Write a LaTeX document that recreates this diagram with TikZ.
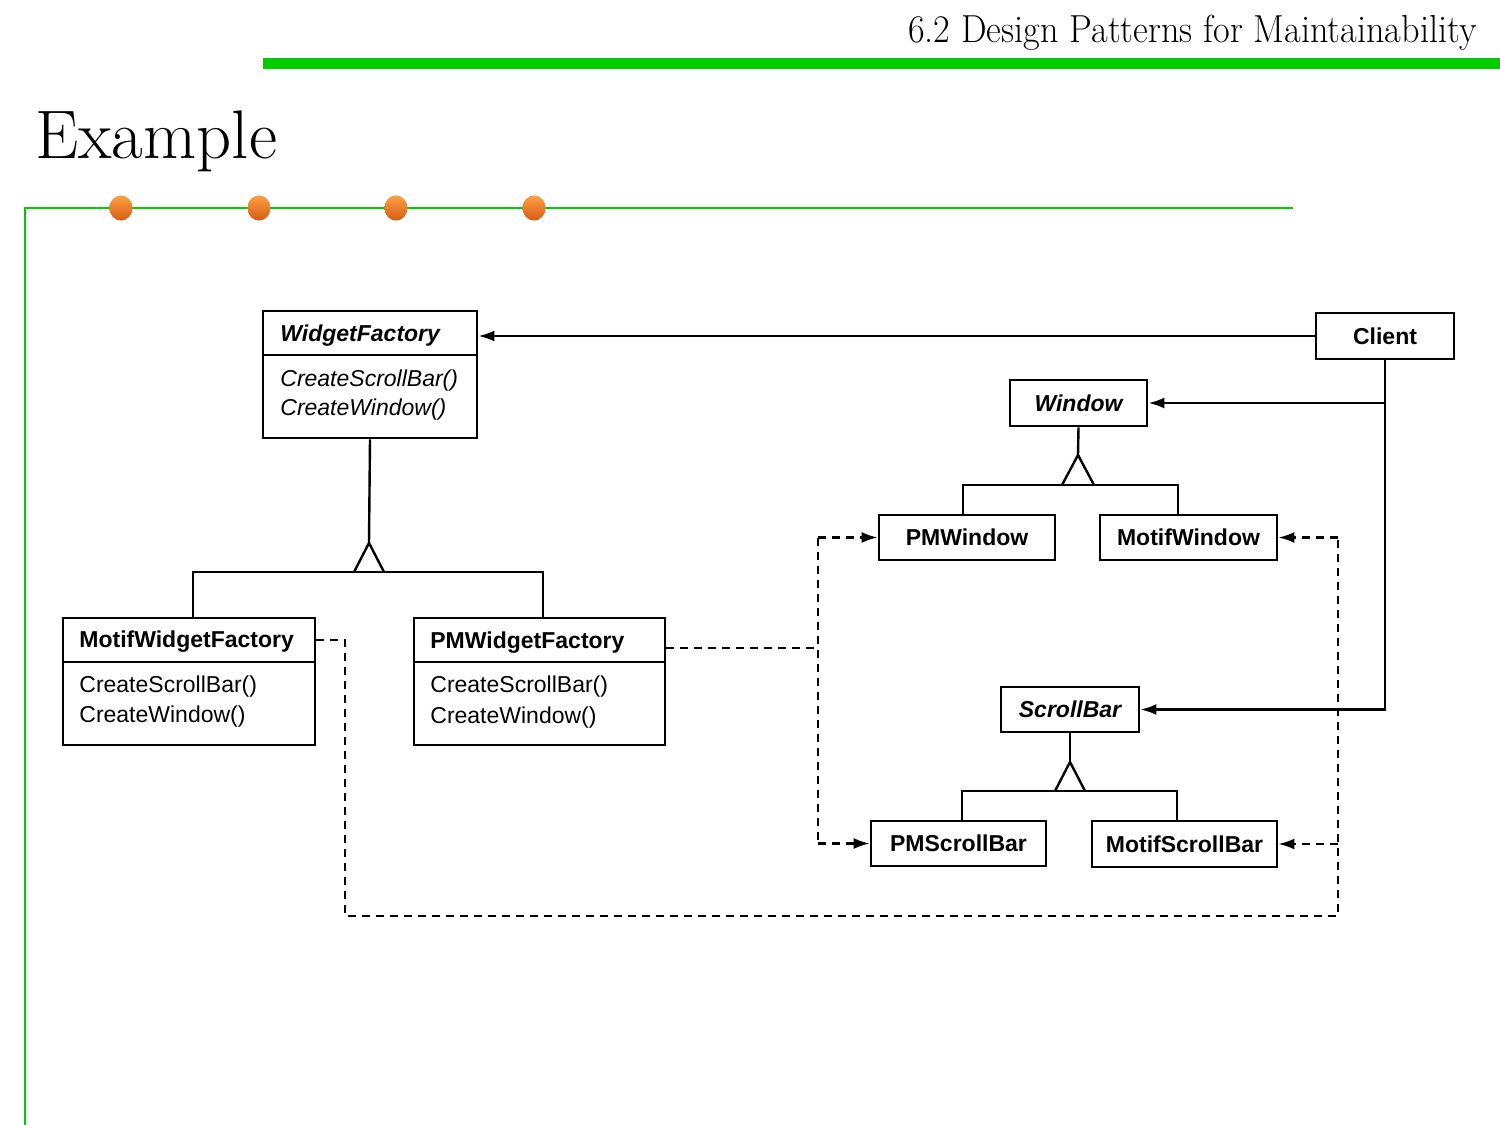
\documentclass[tikz,border=0pt]{standalone}
\usepackage{fontspec}
\setsansfont{Liberation Sans}
\usetikzlibrary{arrows.meta,calc}
\definecolor{hgreen}{RGB}{0,204,0}
\definecolor{dotlight}{RGB}{252,160,70}
\definecolor{dotdark}{RGB}{214,92,18}
\begin{document}
\begin{tikzpicture}[x=0.5pt,y=-0.5pt,
  box/.style={draw,line width=1.4pt,rectangle,inner sep=0pt,font=\sffamily\bfseries\fontsize{11.5}{13}\selectfont},
  abox/.style={box,font=\sffamily\bfseries\itshape\fontsize{11.5}{13}\selectfont},
  txt/.style={anchor=west,inner sep=0pt,font=\sffamily\fontsize{11.5}{13}\selectfont},
  conn/.style={line width=1.2pt},
  tipa/.style={-{Latex[length=8pt,width=5.5pt]}},
  dsh/.style={line width=1.1pt,dash pattern=on 4pt off 3pt},
  gline/.style={draw=hgreen,line width=1pt}]
\useasboundingbox (0,0) rectangle (1500,1125);
% header
\node[anchor=base east,inner sep=0pt] (hdr) at (1477,42) {\scalebox{1}[1.08]{\fontsize{18.1}{21}\selectfont 6.2 Design Patterns for Maintainability}};
\fill[hgreen] (263,58) rectangle (1500,69);
\node[anchor=base west,inner sep=0pt] (ttl) at (35,158) {\fontsize{34.4}{38}\selectfont Example};
\draw[gline] (1293,208) -- (25,208) -- (25,1125);
\foreach \dx in {121,259,396,534}{
  \shade[left color=dotlight,right color=dotdark,shading angle=0] (\dx,208) ellipse[x radius=5.8pt,y radius=6.3pt];
}
% classes
\node[box,minimum width=107pt,minimum height=63.5pt] (wf) at (370,374.5) {};
\draw[line width=1.2pt] (263,355) -- (477,355);
\node[txt,font=\sffamily\bfseries\itshape\fontsize{11.5}{13}\selectfont] (wft) at (280,336) {WidgetFactory};
\node[txt,font=\sffamily\itshape\fontsize{11.5}{13}\selectfont] (wfm1) at (280,381) {CreateScrollBar()};
\node[txt,font=\sffamily\itshape\fontsize{11.5}{13}\selectfont] (wfm2) at (280,410) {CreateWindow()};

\node[box,minimum width=69pt,minimum height=23pt] (client) at (1385,336) {Client};
\node[abox,minimum width=68.5pt,minimum height=23pt] (window) at (1078.5,403) {Window};
\node[box,minimum width=88pt,minimum height=22.5pt] (pmwin) at (967,537.5) {PMWindow};
\node[box,minimum width=88.5pt,minimum height=22.5pt] (motifwin) at (1188.5,537.5) {MotifWindow};

\node[box,minimum width=126pt,minimum height=63.5pt] (mwf) at (189,681.5) {};
\draw[line width=1.2pt] (63,662) -- (315,662);
\node[txt,font=\sffamily\bfseries\fontsize{11.5}{13}\selectfont] (mwft) at (79,642) {MotifWidgetFactory};
\node[txt] (mwfm1) at (79,687) {CreateScrollBar()};
\node[txt] (mwfm2) at (79,717) {CreateWindow()};

\node[box,minimum width=125.5pt,minimum height=63.5pt] (pmwf) at (539.5,681.5) {};
\draw[line width=1.2pt] (414,662) -- (665,662);
\node[txt,font=\sffamily\bfseries\fontsize{11.5}{13}\selectfont] (pmwft) at (430,643) {PMWidgetFactory};
\node[txt] (pmwfm1) at (430,687) {CreateScrollBar()};
\node[txt] (pmwfm2) at (430,718) {CreateWindow()};

\node[abox,minimum width=69pt,minimum height=22.5pt] (scroll) at (1070,709.5) {ScrollBar};
\node[box,minimum width=87.5pt,minimum height=22.5pt] (pmscroll) at (958.5,843.5) {PMScrollBar};
\node[box,minimum width=92.5pt,minimum height=23pt] (motifscroll) at (1184.5,844) {MotifScrollBar};

% client associations
\draw[conn,tipa] (client.west) -- (wf.east |- client.west);
\draw[conn,tipa] (client.south) |- (window.east);
\draw[conn,tipa] (client.south) |- (scroll.east);

% inheritance: WidgetFactory
\coordinate (wfj) at (369,572);
\draw[conn] (wf.south) -- ($(wfj)+(0,-29)$);
\draw[conn] ($(wfj)+(-15,0)$) -- ($(wfj)+(0,-29)$) -- ($(wfj)+(15,0)$);
\draw[conn] ([xshift=2pt]mwf.north) |- (wfj) -| ([xshift=1.75pt]pmwf.north);
% inheritance: Window
\coordinate (wj) at (1078,485);
\draw[conn] (window.south) -- ($(wj)+(0,-30)$);
\draw[conn] ($(wj)+(-16,0)$) -- ($(wj)+(0,-30)$) -- ($(wj)+(16,0)$);
\draw[conn] ([xshift=-2pt]pmwin.north) |- (wj) -| ([xshift=-5.25pt]motifwin.north);
% inheritance: ScrollBar
\coordinate (sj) at (1070,791);
\draw[conn] (scroll.south) -- ($(sj)+(0,-29)$);
\draw[conn] ($(sj)+(-15,0)$) -- ($(sj)+(0,-29)$) -- ($(sj)+(15,0)$);
\draw[conn] ([xshift=1.75pt]pmscroll.north) |- (sj) -| ([xshift=-3.75pt]motifscroll.north);

% dashed: PM factory creates PM products
\coordinate (pmwfo) at ([yshift=16.75pt]pmwf.east);
\coordinate (lx) at (818,0);
\draw[dsh] (pmwfo) -- (lx |- pmwfo);
\draw[dsh] (lx |- pmwin.west) -- (lx |- pmscroll.west);
\draw[dsh,tipa] (lx |- pmwin.west) -- (pmwin.west);
\draw[dsh,tipa] (lx |- pmscroll.west) -- (pmscroll.west);

% dashed: Motif factory creates Motif products
\coordinate (mwfo) at ([yshift=20.75pt]mwf.east);
\coordinate (mc1) at (345,916);
\coordinate (mc2) at (1338,916);
\draw[dsh] (mwfo) -| (mc1) -- (mc2) -- (mc2 |- motifwin.east);
\draw[dsh,tipa] (mc2 |- motifwin.east) -- (motifwin.east);
\draw[dsh,tipa] (mc2 |- motifscroll.east) -- (motifscroll.east);
\end{tikzpicture}
\end{document}
